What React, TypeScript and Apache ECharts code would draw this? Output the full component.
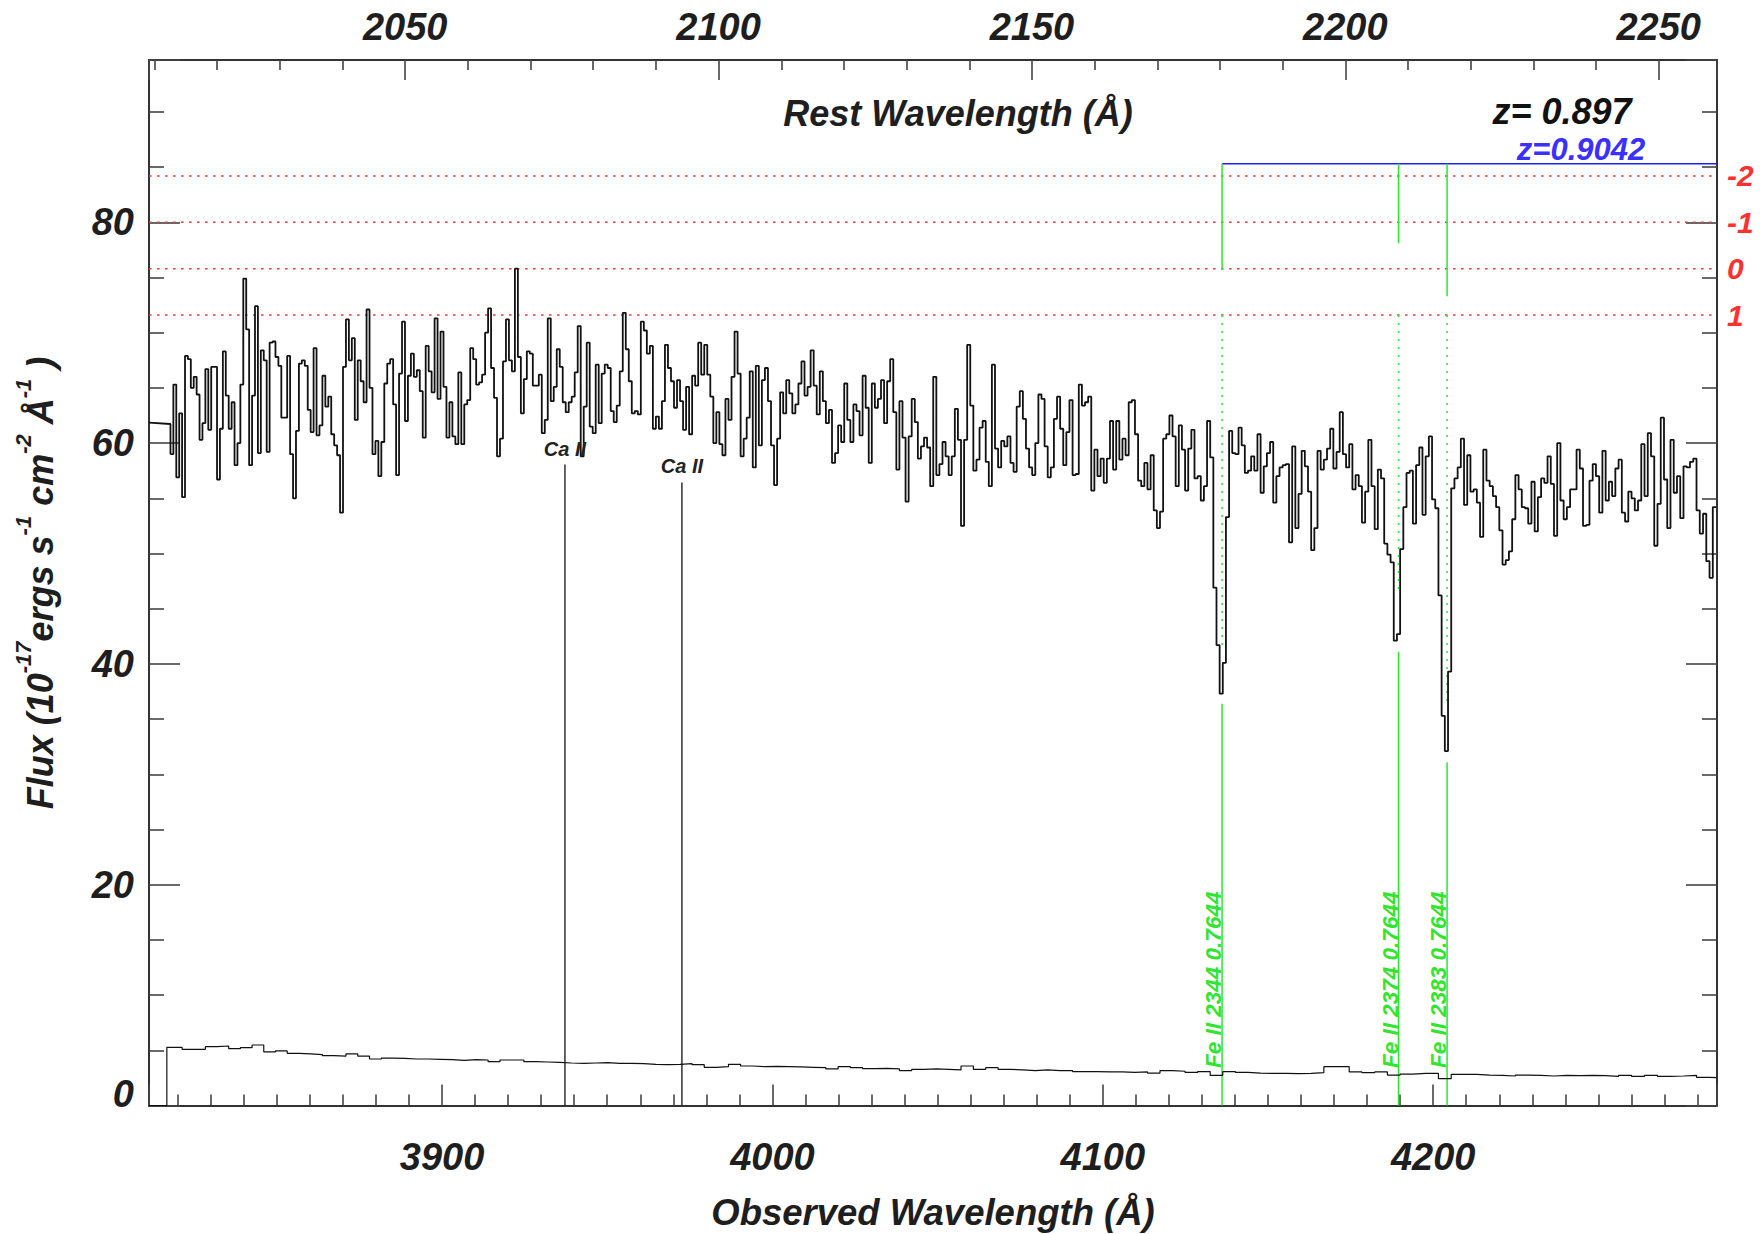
import React, { useEffect, useRef } from "react";
import * as echarts from "echarts";

// ---------- axes ----------
const Z_QSO = 0.897;
const X_MIN = 3811.3;
const X_MAX = 4285.9;
const Y_MIN = 0;
const Y_MAX = 94.7;

// ---------- spectrum pixel grid (log-linear, 1e-4 dex per pixel) ----------
const FIRST_EDGE = 3817.8;
const DLOGLAM = 1e-4;

// flux at the left frame edge and at the first pixel edge (leading segment)
const FLUX_LEAD = [61.85, 61.73];

// flux per pixel (10^-17 erg s^-1 cm^-2 A^-1)
const FLUX_A = [
  59.0, 65.3, 56.9, 62.7, 55.1, 67.9, 67.6, 65.0, 66.0, 64.4,
  60.3, 61.8, 66.7, 61.2, 66.9, 66.9, 56.7, 61.3, 68.3, 64.3,
  61.3, 63.7, 58.0, 60.0, 65.3, 74.9, 70.3, 58.0, 64.3, 72.4,
  59.1, 68.4, 67.5, 59.2, 69.1, 69.2, 67.8, 67.0, 62.3, 62.3,
  67.9, 59.0, 55.0, 61.1, 67.2, 67.5, 67.0, 63.0, 61.0, 68.6,
  60.7, 61.6, 66.1, 63.3, 64.2, 60.8, 59.8, 58.9, 53.7, 66.9,
  71.2, 67.5, 69.5, 62.1, 67.5, 65.6, 63.7, 72.1, 65.0, 59.0,
  60.2, 57.0, 60.1, 65.4, 67.2, 67.6, 63.5, 57.1, 66.3, 71.0,
  62.0, 66.1, 68.1, 66.0, 66.6, 64.7, 60.5, 68.8, 66.5, 64.6,
  71.3, 64.0, 70.1, 65.1, 60.5, 63.7, 60.6, 59.9, 66.4, 59.9,
  63.5, 63.9, 68.6, 67.6, 65.3, 65.5, 66.2, 70.0, 72.2, 66.8,
  64.1, 58.8, 60.4, 67.4, 71.2, 67.5, 66.5, 75.8, 67.8, 62.7,
  65.8, 68.3, 68.1, 65.2, 65.2, 66.2, 60.9, 62.1,
];
const FLUX_B = [
  71.3, 63.8, 65.1, 68.5, 66.9, 63.7, 62.8, 63.7, 64.2, 66.4,
  70.6, 58.8, 63.3, 69.1, 61.5, 60.9, 67.1, 61.8, 66.3, 67.1,
  66.8, 62.9, 61.9, 63.4, 66.5, 71.8, 68.5, 65.6, 62.7, 62.9,
  62.6, 71.0, 70.2, 68.1, 68.8,
];
const FLUX_C = [
  61.3, 62.4, 61.3, 63.8, 68.9, 66.8, 65.6, 63.2, 65.7, 63.8,
  61.2, 65.1, 60.8, 66.1, 65.2, 69.1, 66.2, 68.9, 66.2, 64.2,
  60.0, 62.8, 59.9, 58.9, 64.0, 62.1, 66.0, 70.1, 66.3, 58.8,
  60.4, 62.3, 66.5, 57.8, 67.0, 59.8, 65.7, 66.8, 63.8, 59.8,
  56.2, 60.4, 64.6, 62.7, 65.7, 64.5, 62.7, 63.5, 65.4, 67.4,
  64.3, 65.1, 68.4, 65.2, 62.6, 66.5, 63.8, 61.8, 63.0, 58.2,
  59.1, 61.6, 60.1, 65.4, 62.1, 60.1, 63.5, 62.9, 60.7, 66.1,
  63.2, 58.2, 65.4, 63.2, 64.0, 65.7, 61.8, 65.6, 67.6, 62.8,
  57.6, 63.8, 60.5, 54.7, 60.6, 64.0, 61.9, 58.6, 59.7, 60.5,
  59.6, 56.1, 66.0, 57.1, 58.1,
];
const FLUX_D = [
  60.1, 58.8, 57.1, 58.8, 63.1, 60.3, 52.5, 60.3, 68.9, 63.4,
  57.5, 58.5, 61.4, 62.0, 58.3, 56.1, 67.1, 59.5, 57.8, 60.2,
  59.7, 60.6, 58.2, 57.4, 63.3, 64.7, 62.2, 59.5, 57.8, 57.1,
  60.0, 64.4, 64.0, 59.7, 56.9, 57.8, 62.2, 64.2, 61.3, 58.0,
  61.0, 63.9, 57.1, 57.2, 65.3, 63.4, 63.7, 64.2, 55.7, 59.4,
  57.0, 58.6, 56.4, 58.6, 62.0, 57.6, 62.0, 58.5, 60.4, 58.9,
  63.7, 63.9, 60.8, 56.6, 56.1, 58.2, 55.8, 58.9, 53.9, 52.3,
  53.8, 60.4, 60.8, 62.5, 60.6, 56.1, 61.6, 59.4, 55.7, 59.5,
  61.2, 56.8, 57.0, 54.8, 56.1, 62.0, 58.7, 46.9, 41.7, 37.3,
  40.1, 53.3, 61.1, 59.1, 59.0, 61.4, 59.8, 57.3, 57.5, 58.8,
  57.5, 60.8, 55.5, 57.9, 59.1, 60.1, 54.6, 57.0, 57.8, 58.0,
  58.1, 51.0, 59.7, 52.3, 55.4, 59.3, 57.9, 55.6, 50.3, 52.3,
  59.3, 57.6, 58.5, 59.5, 61.3,
];
const FLUX_E = [
  57.7, 59.2, 62.8, 59.0, 57.8, 59.9, 55.8, 57.1, 56.1, 52.8,
  55.6, 60.3, 56.1, 52.2, 57.6, 56.8, 50.9, 49.9, 49.2, 42.1,
  42.7, 50.4, 54.2, 57.3, 57.5, 52.7, 58.0, 59.6, 53.5, 58.8,
  60.6, 54.9, 54.1, 46.2, 35.3, 32.1, 39.3, 55.9, 56.8, 57.8,
  60.4, 54.4, 58.9, 55.6, 55.8, 54.6, 51.5, 59.4, 56.6, 56.1,
  55.2, 54.2, 52.1, 49.0, 49.4, 50.2, 53.1, 57.1, 55.8, 54.2,
  54.1, 52.7, 56.5, 52.0, 55.1, 56.8, 56.4, 58.8, 56.3, 51.6,
  60.0, 54.8, 53.1, 54.2, 55.8, 55.8, 59.4, 57.7, 52.5, 52.6,
  56.6, 58.1, 57.0, 53.7, 59.3, 54.8, 56.5, 55.2, 57.7, 58.5,
  53.7, 52.9, 55.6, 55.0, 53.9, 54.8, 59.9, 55.2, 60.9, 58.8,
  50.7, 54.5, 62.3, 56.7, 52.3, 60.3, 55.5, 57.0, 53.2, 57.9,
  57.8, 58.3, 58.6, 53.9, 51.8, 53.6, 49.3, 47.8, 54.2,
];

// error spectrum, one value per 4 pixels
const ERR_START = 3816.7;
const ERR_PIX_PER_STEP = 4;
const ERROR = [
  5.27, 5.09, 5.09, 5.33, 5.39, 5.15, 5.24, 5.48, 4.85, 4.94,
  4.73, 4.67, 4.61, 4.51, 4.48, 4.67, 4.48, 4.21, 4.30, 4.27,
  4.21, 4.21, 4.18, 4.15, 4.09, 4.15, 4.12, 3.97, 4.12, 4.12,
  3.97, 3.94, 3.91, 3.85, 3.82, 3.85, 3.88, 3.82, 3.82, 3.79,
  3.73, 3.70, 3.73, 3.79, 3.70, 3.46, 3.52, 3.73, 3.58, 3.52,
  3.55, 3.52, 3.49, 3.46, 3.43, 3.31, 3.52, 3.43, 3.34, 3.37,
  3.31, 3.16, 3.28, 3.31, 3.28,
  3.22, 3.58, 3.28, 3.43, 3.28, 3.22, 3.16, 3.22, 3.16, 3.16,
  3.07, 3.07, 3.04, 3.04, 3.00, 3.04, 2.94, 3.16, 3.10, 3.00,
  3.07, 2.73, 3.07, 3.00, 2.94, 2.91, 2.91, 2.88, 2.91, 2.97,
  3.52, 3.52, 3.04, 2.97, 3.04, 2.76, 2.85, 2.91, 2.91, 2.43,
  2.82, 2.82, 2.76, 2.73, 2.67, 2.76, 2.73, 2.67, 2.73, 2.70,
  2.73, 2.70, 2.64, 2.73, 2.64, 2.73, 2.64, 2.67, 2.73, 2.55,
  2.52,
];

// ---------- line markers ----------
const CA_LINES = [3937.2, 3972.6];
const CA_TOP = [58.05, 56.44];
const CA_LABEL = "Ca II";

const FE_LINES = [4136.1, 4189.5, 4204.2];
const FE_LABELS = ["Fe II 2344 0.7644", "Fe II 2374 0.7644", "Fe II 2383 0.7644"];
const FE_TOP = 85.3;
const FE_UPPER_END = [75.7, 78.1, 73.3];
const FE_DOT_START = 71.6;
const FE_DOT_END = [41.7, 46.4, 36.4];
const FE_LOWER_START = [36.4, 41.1, 31.1];
const FE_LABEL_Y = 3.4;

const RED_LEVELS = [84.2, 80.0, 75.8, 71.6];
const RED_LABELS = ["-2", "-1", "0", "1"];

const Z_LABEL = "z= 0.897";
const Z2_LABEL = "z=0.9042";

// ---------- styles ----------
const FONT = '"Liberation Sans", Arial, Helvetica, sans-serif';
const TXT = "#1e1e1e";
const GREEN = "#2ee62e";
const RED = "#ff3030";
const BLUE = "#2020ff";

const FLUX = [...FLUX_A, ...FLUX_B, ...FLUX_C, ...FLUX_D, ...FLUX_E];
const edge = (k: number) => Math.pow(10, Math.log10(FIRST_EDGE) + k * DLOGLAM);

export default function App() {
  const ref = useRef<HTMLDivElement>(null);

  useEffect(() => {
    document.body.style.margin = "0";
    document.body.style.overflow = "hidden";
    if (!ref.current) return;
    const chart = echarts.init(ref.current, null, { renderer: "svg" });

    const fluxData: number[][] = FLUX.map((v, k) => [edge(k), v]);
    fluxData.push([edge(FLUX.length), FLUX[FLUX.length - 1]]);

    const leadData = [
      [X_MIN, FLUX_LEAD[0]],
      [FIRST_EDGE, FLUX_LEAD[1]],
      [FIRST_EDGE, FLUX[0]],
    ];

    const errData: number[][] = [[X_MIN, 0]];
    ERROR.forEach((v, g) => errData.push([g === 0 ? ERR_START : edge(g * ERR_PIX_PER_STEP), v]));
    errData.push([edge(FLUX.length), ERROR[ERROR.length - 1]]);

    // segments: [x1, y1, x2, y2, kind]
    const segs: number[][] = [];
    RED_LEVELS.forEach((y) => segs.push([X_MIN, y, X_MAX, y, 4]));
    segs.push([FE_LINES[0], FE_TOP, X_MAX, FE_TOP, 3]);
    FE_LINES.forEach((x, i) => {
      segs.push([x, FE_TOP, x, FE_UPPER_END[i], 0]);
      segs.push([x, FE_DOT_START, x, FE_DOT_END[i], 1]);
      segs.push([x, FE_LOWER_START[i], x, Y_MIN, 0]);
    });
    CA_LINES.forEach((x, i) => segs.push([x, CA_TOP[i], x, Y_MIN, 2]));

    const segStyles: any[] = [
      { stroke: GREEN, lineWidth: 1.5 },
      { stroke: GREEN, lineWidth: 1.5, lineDash: [2, 6] },
      { stroke: "#111", lineWidth: 1.3 },
      { stroke: BLUE, lineWidth: 1.5 },
      { stroke: RED, lineWidth: 1.5, lineDash: [2.5, 5.5] },
    ];

    // labels: [x, y, kind, index]
    const labs: number[][] = [];
    FE_LINES.forEach((x, i) => labs.push([x, FE_LABEL_Y, 0, i]));
    CA_LINES.forEach((x, i) => labs.push([x, CA_TOP[i], 1, i]));
    RED_LEVELS.forEach((y, i) => labs.push([X_MAX, y, 2, i]));

    const labelFont = {
      fontFamily: FONT,
      fontSize: 38,
      fontStyle: "italic",
      fontWeight: "bold",
      color: TXT,
    };
    const tickStyle = { color: "#444", width: 1.6 };
    const plain = (v: number) => String(v);

    const xCommon = {
      type: "value",
      splitNumber: 5,
      splitLine: { show: false },
      minorSplitLine: { show: false },
    };

    const option: any = {
      animation: false,
      backgroundColor: "#ffffff",
      grid: {
        left: 149,
        right: 43,
        top: 60,
        bottom: 128.5,
        containLabel: false,
        outerBoundsMode: "none",
      },
      xAxis: [
        {
          ...xCommon,
          min: X_MIN,
          max: X_MAX,
          position: "bottom",
          axisLine: { show: true, onZero: false, lineStyle: { color: "#333", width: 2 } },
          axisTick: { show: true, inside: true, length: 21, lineStyle: tickStyle },
          minorTick: { show: true, splitNumber: 10, length: 11, lineStyle: tickStyle },
          axisLabel: {
            show: true,
            margin: 32,
            showMinLabel: false,
            showMaxLabel: false,
            formatter: plain,
            ...labelFont,
          },
        },
        {
          ...xCommon,
          min: X_MIN / (1 + Z_QSO),
          max: X_MAX / (1 + Z_QSO),
          position: "top",
          axisLine: { show: true, onZero: false, lineStyle: { color: "#333", width: 2 } },
          axisTick: { show: true, inside: true, length: 20, lineStyle: tickStyle },
          minorTick: { show: true, splitNumber: 5, length: 10, lineStyle: tickStyle },
          axisLabel: {
            show: true,
            margin: 14,
            showMinLabel: false,
            showMaxLabel: false,
            formatter: plain,
            ...labelFont,
          },
        },
      ],
      yAxis: [
        {
          type: "value",
          min: Y_MIN,
          max: Y_MAX,
          position: "left",
          splitNumber: 5,
          splitLine: { show: false },
          minorSplitLine: { show: false },
          axisLine: { show: true, onZero: false, lineStyle: { color: "#333", width: 2 } },
          axisTick: { show: true, inside: true, length: 31, lineStyle: tickStyle },
          minorTick: { show: true, splitNumber: 4, length: 15, lineStyle: tickStyle },
          axisLabel: {
            show: true,
            margin: 15,
            showMaxLabel: false,
            ...labelFont,
            formatter: (v: number) => (v === 0 ? "{z|0}" : String(v)),
            rich: {
              z: { ...labelFont, padding: [0, 0, 24, 0] },
            },
          },
        },
        {
          type: "value",
          min: Y_MIN,
          max: Y_MAX,
          position: "right",
          splitNumber: 5,
          splitLine: { show: false },
          minorSplitLine: { show: false },
          axisLine: { show: true, onZero: false, lineStyle: { color: "#333", width: 2 } },
          axisTick: { show: true, inside: true, length: 31, lineStyle: tickStyle },
          minorTick: { show: true, splitNumber: 4, length: 15, lineStyle: tickStyle },
          axisLabel: { show: false },
        },
      ],
      graphic: [
        {
          type: "text",
          x: 958,
          y: 113,
          style: {
            text: "Rest Wavelength (Å)",
            font: `italic bold 36px ${FONT}`,
            lineHeight: 36,
            fill: TXT,
            align: "center",
            verticalAlign: "middle",
            textAlign: "center",
            textVerticalAlign: "middle",
          },
        },
        {
          type: "text",
          x: 1562,
          y: 111,
          style: {
            text: Z_LABEL,
            font: `italic bold 36px ${FONT}`,
            lineHeight: 30,
            fill: "#111",
            align: "center",
            verticalAlign: "middle",
            textAlign: "center",
            textVerticalAlign: "middle",
          },
        },
        {
          type: "text",
          x: 1581,
          y: 149,
          style: {
            text: Z2_LABEL,
            font: `italic bold 31px ${FONT}`,
            lineHeight: 26,
            fill: "#3a30ff",
            align: "center",
            verticalAlign: "middle",
            textAlign: "center",
            textVerticalAlign: "middle",
          },
        },
        {
          type: "text",
          x: 933,
          y: 1212,
          style: {
            text: "Observed Wavelength (Å)",
            font: `italic bold 36.5px ${FONT}`,
            fill: TXT,
            align: "center",
            verticalAlign: "middle",
            textAlign: "center",
            textVerticalAlign: "middle",
          },
        },
        {
          type: "text",
          x: 40,
          y: 583,
          rotation: Math.PI / 2,
          style: {
            text: "{n|Flux (10}{s|-17}{n|ergs s}{s|-1}{n| cm}{s|-2}{n| Å}{s|-1}{n| )}",
            align: "center",
            verticalAlign: "middle",
            textAlign: "center",
            textVerticalAlign: "middle",
            fill: TXT,
            rich: {
              n: {
                fontFamily: FONT,
                fontSize: 36,
                fontStyle: "italic",
                fontWeight: "bold",
                lineHeight: 56,
                fill: TXT,
              },
              s: {
                fontFamily: FONT,
                fontSize: 22,
                fontStyle: "italic",
                fontWeight: "bold",
                lineHeight: 22,
                verticalAlign: "top",
                fill: TXT,
              },
            },
          },
        },
      ],
      series: [
        {
          type: "custom",
          name: "markers",
          coordinateSystem: "cartesian2d",
          xAxisIndex: 0,
          yAxisIndex: 0,
          clip: false,
          silent: true,
          z: 1,
          encode: { x: [0, 2], y: [1, 3] },
          data: segs,
          renderItem: (params: any, api: any) => {
            const p1 = api.coord([api.value(0), api.value(1)]);
            const p2 = api.coord([api.value(2), api.value(3)]);
            const kind = api.value(4);
            return {
              type: "line",
              shape: { x1: p1[0], y1: p1[1], x2: p2[0], y2: p2[1] },
              style: { ...segStyles[kind], fill: null },
            };
          },
        },
        {
          type: "custom",
          name: "labels",
          coordinateSystem: "cartesian2d",
          xAxisIndex: 0,
          yAxisIndex: 0,
          clip: false,
          silent: true,
          z: 6,
          encode: { x: 0, y: 1 },
          data: labs,
          renderItem: (params: any, api: any) => {
            const p = api.coord([api.value(0), api.value(1)]);
            const kind = api.value(2);
            const idx = api.value(3);
            if (kind === 0) {
              return {
                type: "text",
                x: p[0] + 3,
                y: p[1],
                rotation: Math.PI / 2,
                style: {
                  text: FE_LABELS[idx],
                  font: `italic bold 22.5px ${FONT}`,
                  fill: GREEN,
                  align: "left",
                  verticalAlign: "bottom",
                  textAlign: "left",
                  textVerticalAlign: "bottom",
                },
              };
            }
            if (kind === 1) {
              return {
                type: "text",
                x: p[0],
                y: p[1] - 6,
                style: {
                  text: CA_LABEL,
                  font: `italic bold 20px ${FONT}`,
                  fill: "#222",
                  align: "center",
                  verticalAlign: "bottom",
                  textAlign: "center",
                  textVerticalAlign: "bottom",
                },
              };
            }
            return {
              type: "text",
              x: p[0] + 10,
              y: p[1],
              style: {
                text: RED_LABELS[idx],
                font: `italic bold 30px ${FONT}`,
                lineHeight: 28,
                fill: RED,
                align: "left",
                verticalAlign: "middle",
                textAlign: "left",
                textVerticalAlign: "middle",
              },
            };
          },
        },
        {
          type: "line",
          name: "error",
          xAxisIndex: 0,
          yAxisIndex: 0,
          step: "end",
          symbol: "none",
          showSymbol: false,
          silent: true,
          z: 3,
          lineStyle: { color: "#111", width: 1.2 },
          data: errData,
        },
        {
          type: "line",
          name: "lead",
          xAxisIndex: 0,
          yAxisIndex: 0,
          symbol: "none",
          showSymbol: false,
          silent: true,
          z: 4,
          lineStyle: { color: "#111", width: 1.8 },
          data: leadData,
        },
        {
          type: "line",
          name: "flux",
          xAxisIndex: 0,
          yAxisIndex: 0,
          step: "end",
          symbol: "none",
          showSymbol: false,
          silent: true,
          z: 4,
          lineStyle: { color: "#111", width: 1.8 },
          data: fluxData,
        },
      ],
    };

    chart.setOption(option);
    return () => {
      chart.dispose();
    };
  }, []);

  return <div ref={ref} style={{ width: 1760, height: 1234, background: "#fff" }} />;
}
